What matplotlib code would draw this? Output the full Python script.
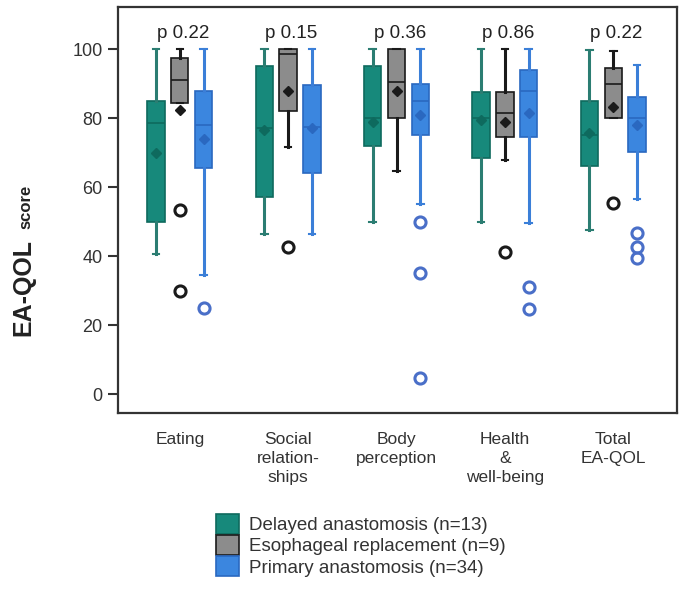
import matplotlib
matplotlib.use("Agg")
import matplotlib.pyplot as plt
from matplotlib.patches import Patch

plt.rcParams['font.family'] = ['Liberation Sans', 'DejaVu Sans']

domains = ['Eating', 'Social\nrelation-\nships', 'Body\nperception',
           'Health\n&\nwell-being', 'Total\nEA-QOL']
p_values = ['p 0.22', 'p 0.15', 'p 0.36', 'p 0.86', 'p 0.22']
groups = ['Delayed anastomosis (n=13)', 'Esophageal replacement (n=9)',
          'Primary anastomosis (n=34)']

# per group: one value per domain
delayed_whislo = [40.5, 46.5, 50, 50, 47.5]
delayed_q1 = [50, 57, 72, 68.3, 66]
delayed_med = [78.5, 77, 80, 80, 75]
delayed_q3 = [85, 95, 95, 87.6, 85]
delayed_whishi = [100, 100, 100, 100, 99.7]
delayed_mean = [70, 76.5, 79, 79.4, 75.6]
delayed_fliers = [[], [], [], [], []]

replace_whislo = [84.5, 71.6, 64.7, 68, 80]
replace_q1 = [84.5, 82, 80, 74.6, 80]
replace_med = [91, 98.5, 90.5, 81.4, 90]
replace_q3 = [97.4, 100, 100, 87.6, 94.5]
replace_whishi = [100, 100, 100, 100, 99.5]
replace_mean = [82.3, 88, 88, 79, 83.3]
replace_fliers = [[53.3, 30], [42.6], [], [41.2], [55.3]]

primary_whislo = [34.5, 46.5, 55, 49.7, 56.5]
primary_q1 = [65.5, 64, 75, 74.6, 70.2]
primary_med = [78, 77.5, 85, 88, 80]
primary_q3 = [88, 89.5, 90, 94, 86]
primary_whishi = [100, 100, 100, 100, 95.4]
primary_mean = [74, 77, 81, 81.4, 78]
primary_fliers = [[25], [], [50, 35, 4.7], [31, 24.8], [46.6, 42.6, 39.4]]

series = [
    (delayed_whislo, delayed_q1, delayed_med, delayed_q3, delayed_whishi, delayed_mean, delayed_fliers),
    (replace_whislo, replace_q1, replace_med, replace_q3, replace_whishi, replace_mean, replace_fliers),
    (primary_whislo, primary_q1, primary_med, primary_q3, primary_whishi, primary_mean, primary_fliers),
]

face = ['#17897b', '#8c8c8c', '#3b86df']
edge = ['#0e6a5e', '#1a1a1a', '#2a68c0']
line = ['#2b7d72', '#1a1a1a', '#3b7fd8']
flier_col = ['#1a1a1a', '#1a1a1a', '#4a6fc8']
offsets = [-0.22, 0.0, 0.22]

fig = plt.figure(figsize=(6.82, 5.90), dpi=100)
ax = fig.add_axes([0.173, 0.300, 0.820, 0.688])

for g, (lo, q1, med, q3, hi, mean, fl) in enumerate(series):
    stats = []
    for i in range(len(domains)):
        stats.append(dict(whislo=lo[i], q1=q1[i], med=med[i], q3=q3[i],
                          whishi=hi[i], mean=mean[i], fliers=fl[i]))
    pos = [i + offsets[g] for i in range(len(domains))]
    ax.bxp(stats, positions=pos, widths=0.16, patch_artist=True,
           showmeans=True, showcaps=True,
           boxprops=dict(facecolor=face[g], edgecolor=edge[g], linewidth=1.2),
           medianprops=dict(color=edge[g], linewidth=1.2),
           whiskerprops=dict(color=line[g], linewidth=2.2),
           capprops=dict(color=line[g], linewidth=1.5),
           capwidths=0.06,
           meanprops=dict(marker='D', markerfacecolor=edge[g], markeredgecolor=edge[g],
                          markersize=5),
           flierprops=dict(marker='o', markerfacecolor='none', markeredgecolor=flier_col[g],
                           markeredgewidth=2.2, markersize=8))

for i, p in enumerate(p_values):
    ax.text(i + 0.03, 104.5, p, ha='center', va='center', fontsize=13.5, color='#222222')

ax.set_xlim(-0.57, 4.59)
ax.set_ylim(-5.5, 112.2)
ax.set_yticks([0, 20, 40, 60, 80, 100])
ax.tick_params(axis='y', direction='out', length=7, width=1.5, labelsize=13,
               colors='#333333', pad=4)
ax.set_xticks(range(len(domains)))
ax.set_xticklabels(domains, fontsize=12.5, linespacing=1.3, color='#333333')
ax.tick_params(axis='x', length=0, pad=14)
for s in ax.spines.values():
    s.set_color('#333333')
    s.set_linewidth(1.6)

fig.text(30 / 682, 0.512, 'EA-QOL', rotation=90, rotation_mode='anchor',
         ha='center', va='baseline', fontsize=18, fontweight='bold', color='#222222')
fig.text(30 / 682, 0.650, 'score', rotation=90, rotation_mode='anchor',
         ha='center', va='baseline', fontsize=12, fontweight='bold', color='#222222')

handles = [Patch(facecolor=face[g], edgecolor=edge[g], linewidth=1.2) for g in range(3)]
fig.legend(handles, groups, loc='upper left', bbox_to_anchor=(216 / 682, 1 - 514 / 590),
           frameon=False, fontsize=13.5, handlelength=1.25, handleheight=1.25,
           labelspacing=0.05, handletextpad=0.5, borderpad=0, borderaxespad=0,
           labelcolor='#333333')

fig.savefig('out.png', dpi=100)
